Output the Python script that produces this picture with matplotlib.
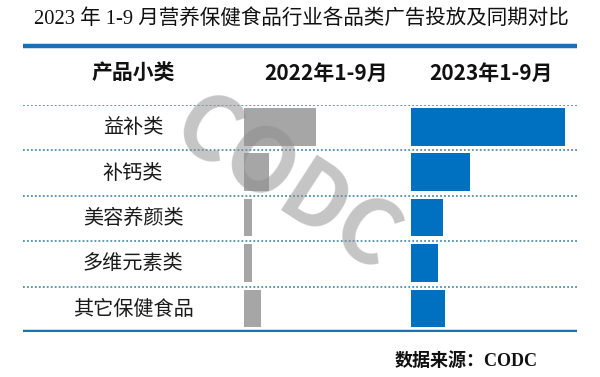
import matplotlib.pyplot as plt

plt.rcParams['font.family'] = ['Noto Sans CJK SC', 'DejaVu Sans']

# 数据
categories = ['益补类', '补钙类', '美容养颜类', '多维元素类', '其它保健食品']
spend_2022 = [72, 25, 8, 8, 17]
spend_2023 = [154, 59, 32, 27, 34]
headers = ['产品小类', '2022年1-9月', '2023年1-9月']

W, H = 600, 377
fig = plt.figure(figsize=(W / 100, H / 100), dpi=100)


def box(x0, y0, x1, y1):
    # пиксели -> доли фигуры
    return [x0 / W, 1 - y1 / H, (x1 - x0) / W, (y1 - y0) / H]


# таблица
ax = fig.add_axes(box(23, 105, 577, 332))
ax.set_xlim(0, 554)
ax.set_ylim(5, 0)
ax.axis('off')

for i in range(5):
    ax.axhline(i, color='#4f8fa8', lw=1.3, ls=(0, (1, 1.2)))
ax.axhline(5, color='#1f6db5', lw=3.2)
ax.plot([0, 554], [-1.3, -1.3], color='#1f6db5', lw=3.2, clip_on=False,
        solid_capstyle='butt')

for i, c in enumerate(categories):
    ax.text(110, i + 0.5, c, ha='center', va='center', fontsize=14.5,
            color='#1a1a1a')

for x, h in zip([110, 303, 468], headers):
    ax.text(x, -0.7, h, ha='center', va='center', fontsize=15,
            fontweight='bold', color='#111111')

rows = [i + 0.48 for i in range(len(categories))]

ax22 = fig.add_axes(box(244, 105, 404, 332))
ax22.barh(rows, spend_2022, height=0.83, color='#a6a6a6')
ax22.set_xlim(0, 160)
ax22.set_ylim(5, 0)
ax22.axis('off')

ax23 = fig.add_axes(box(411, 105, 577, 332))
ax23.barh(rows, spend_2023, height=0.83, color='#0070c0')
ax23.set_xlim(0, 166)
ax23.set_ylim(5, 0)
ax23.axis('off')

# заголовок и источник
fig.text(301 / W, 1 - 19 / H, '2023 年 1-9 月营养保健食品行业各品类广告投放及同期对比',
         ha='center', va='center', fontsize=14.8, color='#111111',
         family=['Liberation Serif', 'Noto Sans CJK SC'])
fig.text(466 / W, 1 - 361 / H, '数据来源：CODC', ha='center', va='center',
         fontsize=13, fontweight='bold', color='#111111',
         family=['Liberation Serif', 'Noto Sans CJK SC'])

# водяной знак
fig.text(285 / W, 1 - 185 / H, 'CODC', ha='center', va='center', fontsize=64,
         fontweight='bold', rotation=-33, color='#8c8c8c', alpha=0.5)

fig.savefig('out.png', dpi=100)
